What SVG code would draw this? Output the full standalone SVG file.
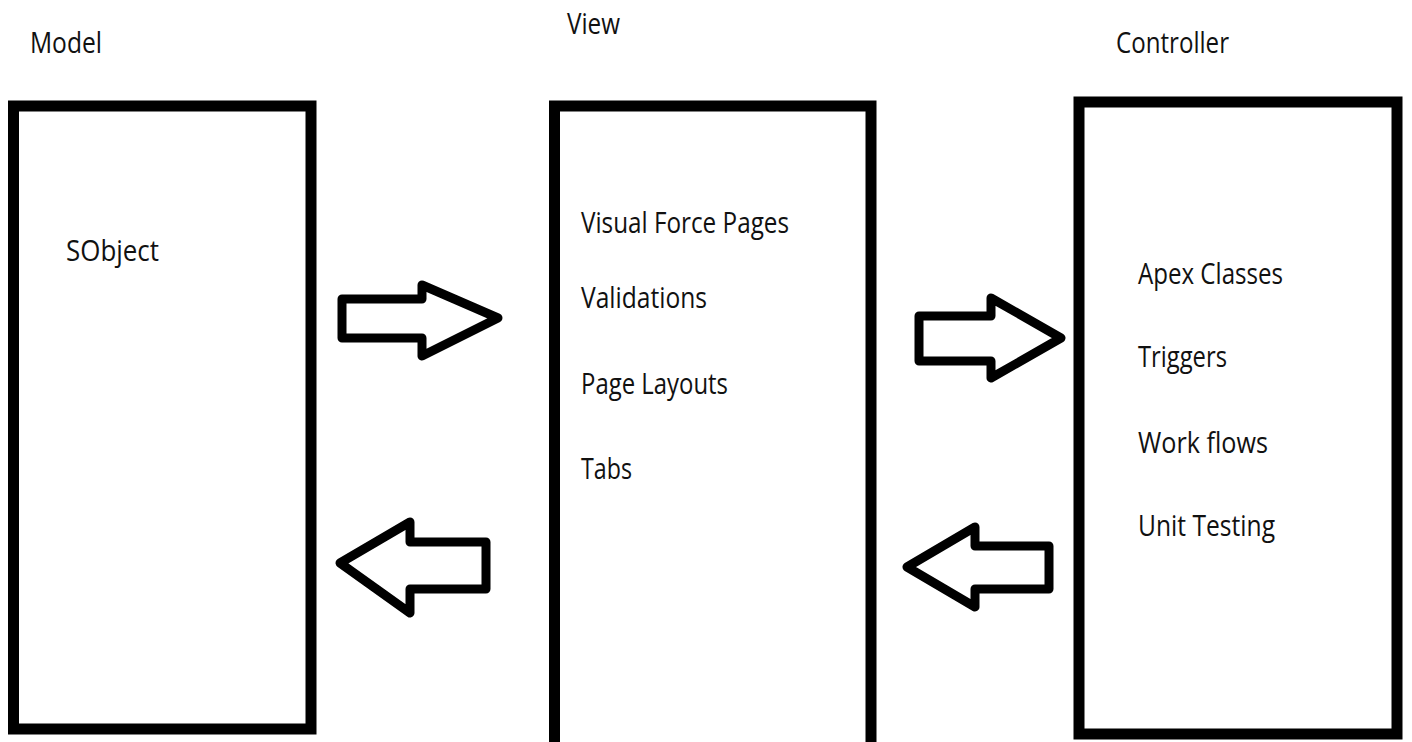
<svg xmlns="http://www.w3.org/2000/svg" width="1412" height="742" viewBox="0 0 1412 742">
<style>
.box{fill:#fff;stroke:#000;stroke-width:11}
.arrow{fill:#fff;stroke:#000;stroke-width:9;stroke-linejoin:round}
text{font-family:"Open Sans","Liberation Sans",sans-serif;font-size:29px;fill:#111}
</style>
<rect width="1412" height="742" fill="#fff"/>
<g id="model">
<rect class="box" x="13.5" y="106" width="297.5" height="623"/>
<text x="30" y="53" textLength="72" lengthAdjust="spacingAndGlyphs">Model</text>
<text x="66" y="261" textLength="93" lengthAdjust="spacingAndGlyphs">SObject</text>
</g>
<g id="view">
<rect class="box" x="554.5" y="106" width="316.5" height="645"/>
<text x="567" y="34" textLength="53" lengthAdjust="spacingAndGlyphs">View</text>
<text x="581" y="233" textLength="208" lengthAdjust="spacingAndGlyphs">Visual Force Pages</text>
<text x="581" y="308" textLength="126" lengthAdjust="spacingAndGlyphs">Validations</text>
<text x="581" y="394" textLength="147" lengthAdjust="spacingAndGlyphs">Page Layouts</text>
<text x="581" y="479" textLength="51" lengthAdjust="spacingAndGlyphs">Tabs</text>
</g>
<g id="controller">
<rect class="box" x="1079" y="102" width="318" height="632"/>
<text x="1116" y="53" textLength="113" lengthAdjust="spacingAndGlyphs">Controller</text>
<text x="1138" y="284" textLength="145" lengthAdjust="spacingAndGlyphs">Apex Classes</text>
<text x="1138" y="367" textLength="89" lengthAdjust="spacingAndGlyphs">Triggers</text>
<text x="1138" y="453" textLength="130" lengthAdjust="spacingAndGlyphs">Work flows</text>
<text x="1138" y="536" textLength="137" lengthAdjust="spacingAndGlyphs">Unit Testing</text>
</g>
<g id="connectors">
<polygon class="arrow" points="342,299 422,299 422,285 498,318 422,356 422,338 342,338"/>
<polygon class="arrow" points="486,542 410,542 410,522 340,563 410,613 410,589 486,589"/>
<polygon class="arrow" points="919,316 991,316 991,298 1061,338 991,378 991,361 919,361"/>
<polygon class="arrow" points="1049,546 975,546 975,527 907,567 975,607 975,589 1049,589"/>
</g>
</svg>
